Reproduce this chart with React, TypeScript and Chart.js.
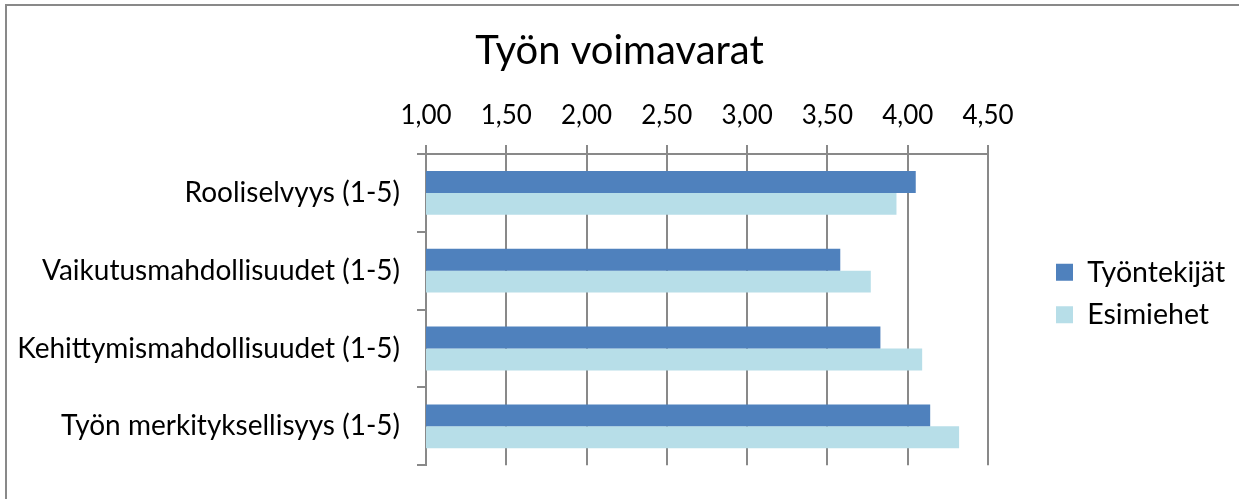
import React, { useEffect, useRef } from 'react';
import { Chart, registerables } from 'chart.js';

Chart.register(...registerables);

const chartTitle = 'Työn voimavarat';
const categories = [
  'Rooliselvyys (1-5)',
  'Vaikutusmahdollisuudet (1-5)',
  'Kehittymismahdollisuudet (1-5)',
  'Työn merkityksellisyys (1-5)',
];
const seriesNames = ['Työntekijät', 'Esimiehet'];
const tyontekijat = [4.05, 3.58, 3.83, 4.14];
const esimiehet = [3.93, 3.77, 4.09, 4.32];
const axisMin = 1.0;
const axisMax = 4.5;
const axisStep = 0.5;

const FONT = "Lato, 'Open Sans', sans-serif";
const GRID = '#898989';
const TEXT = '#000000';
const COLORS = ['#4F81BD', '#B7DEE8'];

const LEGEND_W = 251;

export default function App() {
  const ref = useRef<HTMLCanvasElement | null>(null);

  useEffect(() => {
    document.body.style.margin = '0';
    const canvas = ref.current;
    if (!canvas) return;

    const framePlugin = {
      id: 'frame',
      afterDraw(chart: any) {
        const c = chart.ctx;
        c.save();
        c.strokeStyle = GRID;
        c.lineWidth = 2;
        c.beginPath();
        c.moveTo(6, chart.height + 10);
        c.lineTo(6, 5);
        c.lineTo(chart.width + 10, 5);
        c.stroke();
        c.restore();
      },
    };

    const legendPlace = {
      id: 'legendPlace',
      beforeLayout(chart: any) {
        const lg = chart.legend;
        if (lg && !lg.__wrapped) {
          const f = lg.fit.bind(lg);
          lg.fit = () => {
            f();
            lg.width = LEGEND_W;
          };
          lg.__wrapped = true;
        }
      },
      afterLayout(chart: any) {
        const lg = chart.legend;
        if (!lg) return;
        const dx = chart.chartArea.right + 54 - lg.left;
        lg.left += dx;
        lg.right += dx;
        lg.top -= 16;
        lg.bottom -= 16;
      },
    };

    const chart = new Chart(canvas, {
      type: 'bar',
      data: {
        labels: categories,
        datasets: [
          {
            label: seriesNames[0],
            data: tyontekijat,
            backgroundColor: COLORS[0],
            borderWidth: 0,
            categoryPercentage: 0.5625,
            barPercentage: 1,
          },
          {
            label: seriesNames[1],
            data: esimiehet,
            backgroundColor: COLORS[1],
            borderWidth: 0,
            categoryPercentage: 0.5625,
            barPercentage: 1,
          },
        ],
      },
      options: {
        indexAxis: 'y',
        animation: false,
        responsive: true,
        maintainAspectRatio: false,
        devicePixelRatio: 1,
        layout: { padding: { left: 0, right: 0, top: 0, bottom: 26 } },
        plugins: {
          title: {
            display: true,
            text: chartTitle,
            color: TEXT,
            font: { family: FONT, size: 40, weight: 'normal' },
            padding: { top: 27, bottom: 0 },
          },
          legend: {
            display: true,
            position: 'right',
            align: 'center',
            fullSize: false,
            labels: {
              color: TEXT,
              font: { family: FONT, size: 28.5 },
              boxWidth: 17,
              boxHeight: 17,
              padding: 14,
            },
          },
          tooltip: { enabled: false },
        },
        scales: {
          x: {
            position: 'top',
            min: axisMin,
            max: axisMax,
            ticks: {
              stepSize: axisStep,
              color: TEXT,
              font: { family: FONT, size: 26 },
              padding: 14,
              callback: (v: any) => Number(v).toFixed(2).replace('.', ','),
            },
            grid: {
              color: GRID,
              lineWidth: 2,
              drawTicks: true,
              tickLength: 9,
            },
            border: { display: true, color: GRID, width: 2 },
            afterFit: (s: any) => {
              s.height = 79;
            },
          },
          y: {
            ticks: {
              color: TEXT,
              font: { family: FONT, size: 28 },
              padding: 17,
            },
            grid: {
              drawOnChartArea: false,
              drawTicks: true,
              tickLength: 9,
              color: GRID,
              lineWidth: 2,
              offset: true,
            },
            border: { display: true, color: GRID, width: 2 },
            afterFit: (s: any) => {
              s.width = 426;
            },
          },
        },
      },
      plugins: [framePlugin, legendPlace],
    });

    return () => chart.destroy();
  }, []);

  return (
    <div style={{ position: 'absolute', left: 0, top: 0, width: 1239, height: 499, background: '#fff' }}>
      <canvas ref={ref} />
    </div>
  );
}
